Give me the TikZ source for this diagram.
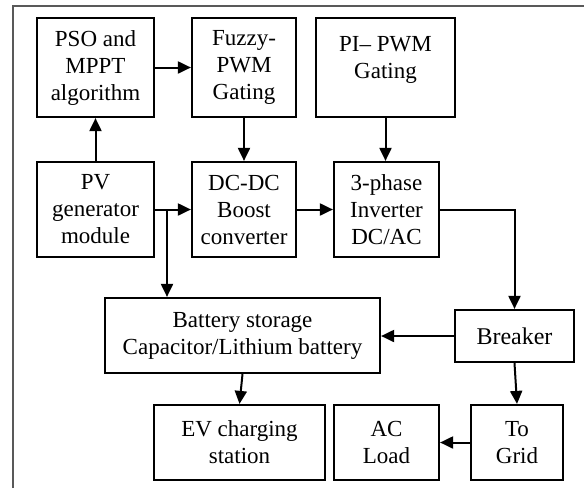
\documentclass[tikz,border=0pt]{standalone}
\usepackage{fontspec}
\setmainfont{Liberation Serif}
\usetikzlibrary{arrows.meta}
\begin{document}
\begin{tikzpicture}[x=1pt,y=-1pt,
  blk/.style={draw=black,line width=2.2pt,align=center,inner sep=0pt,
    font=\fontsize{23}{27}\selectfont},
  arr/.style={line width=2pt,-{Triangle[length=13pt,width=12pt]}},
  frameline/.style={draw=black!65,line width=1.6pt}]
\useasboundingbox (0,0) rectangle (584,488);
\draw[frameline] (13,488) -- (13,6) -- (584,6);
% top row
\node[blk,minimum width=117pt,minimum height=99pt] (pso) at (95.5,67.5) {PSO and\\MPPT\\algorithm};
\node[blk,minimum width=104pt,minimum height=99pt] (fuz) at (244,67.5) {Fuzzy-\\PWM\\Gating};
\node[blk,minimum width=139pt,minimum height=99pt] (pi) at (385.5,67.5) {};
\node[align=center,inner sep=0pt,font=\fontsize{23}{27}\selectfont] (pitext) at (385.5,60) {PI– PWM\\Gating};
% middle row
\node[blk,minimum width=117pt,minimum height=95pt] (pv) at (95.5,209.5) {PV\\generator\\module};
\node[blk,minimum width=104pt,minimum height=95pt] (dc) at (244,209.5) {DC-DC\\Boost\\converter};
\node[blk,minimum width=105pt,minimum height=95pt] (inv) at (386.5,209.5) {3-phase\\Inverter\\DC/AC};
% battery row
\node[blk,minimum width=275pt,minimum height=75pt] (bat) at (242.5,335.5) {Battery storage\\Capacitor/Lithium battery};
\node[blk,minimum width=119pt,minimum height=52pt,font=\fontsize{24}{28}\selectfont] (brk) at (514.5,336) {Breaker};
% bottom row
\node[blk,minimum width=171pt,minimum height=75pt] (ev) at (239.5,442.5) {EV charging\\station};
\node[blk,minimum width=105pt,minimum height=75pt] (ac) at (386.5,442.5) {AC\\Load};
\node[blk,minimum width=92pt,minimum height=75pt] (grid) at (517,442.5) {To\\Grid};
% connectors
\draw[arr] (pv.north) -- (pso.south);
\draw[arr] (pso.east) -- (fuz.west);
\draw[arr] (fuz.south) -- (dc.north);
\draw[arr] (pv.east) -- (dc.west);
\coordinate (br) at (167,209.5);
\draw[arr] (br) -- (br |- bat.north);
\draw[arr] (dc.east) -- (inv.west);
\draw[arr] (pi.south) -- (pi.south |- inv.north);
\draw[arr] (inv.east) -| (brk.north);
\draw[arr] (brk.west) -- (brk.west -| bat.east);
\draw[arr] (brk.south) -- (grid.north);
\draw[arr] (grid.west) -- (ac.east);
\draw[arr] (bat.south) -- (ev.north);
\end{tikzpicture}
\end{document}
